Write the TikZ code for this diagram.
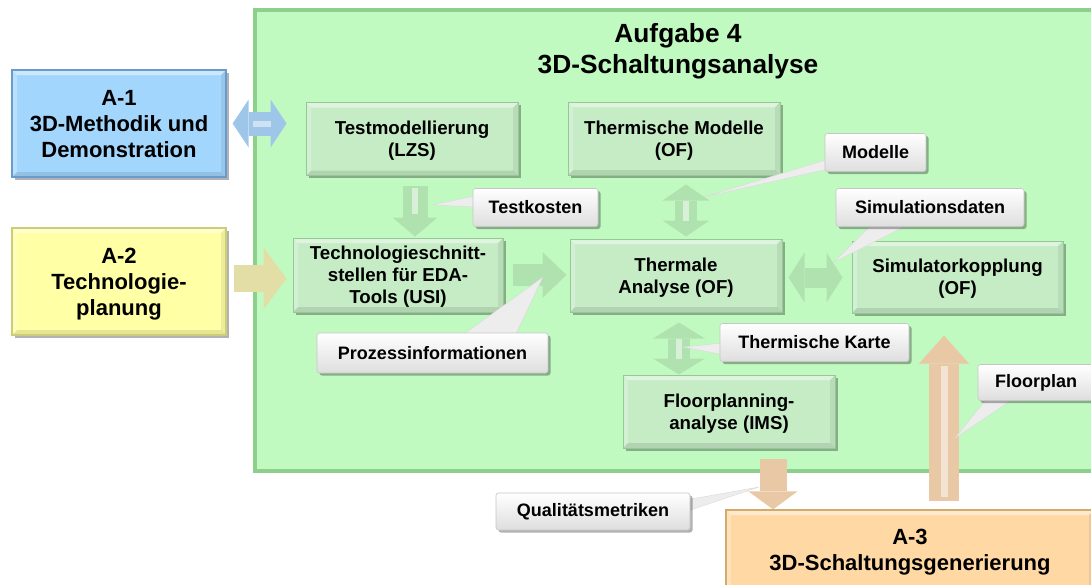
\documentclass[tikz,border=0pt]{standalone}
\usepackage{fontspec}
\setmainfont{Liberation Sans}
\usetikzlibrary{arrows.meta,shadows,calc}

\pgfdeclarelayer{bg}
\pgfdeclarelayer{ptr}
\pgfsetlayers{bg,ptr,main}

\definecolor{panelgreen}{RGB}{193,250,193}
\definecolor{panelrim}{RGB}{140,208,140}
\definecolor{boxgreen}{RGB}{198,236,198}
\definecolor{boxrim}{RGB}{150,200,150}
\definecolor{a1blue}{RGB}{163,214,253}
\definecolor{a1rim}{RGB}{105,155,205}
\definecolor{a2yellow}{RGB}{255,255,165}
\definecolor{a2rim}{RGB}{205,205,120}
\definecolor{a3orange}{RGB}{255,216,163}
\definecolor{a3rim}{RGB}{210,170,110}
\definecolor{arrgreen}{RGB}{176,226,176}
\definecolor{arrblue}{RGB}{158,198,232}
\definecolor{arrkhaki}{RGB}{226,222,165}
\definecolor{arrtan}{RGB}{232,200,165}
\definecolor{callgray}{RGB}{222,222,222}

\tikzset{
  boxshadow/.style={drop shadow={shadow xshift=2.5pt, shadow yshift=-2.5pt, opacity=0.3, fill=black}},
  % light upper/left rim and dark lower/right rim for a raised look
  bevel/.style={path picture={
    \fill[white, opacity=0.45]
      (path picture bounding box.north west) -- (path picture bounding box.north east)
      -- ([xshift=-5pt,yshift=-5pt]path picture bounding box.north east)
      -- ([xshift=5pt,yshift=-5pt]path picture bounding box.north west) -- cycle;
    \fill[white, opacity=0.25]
      (path picture bounding box.north west) -- (path picture bounding box.south west)
      -- ([xshift=5pt,yshift=5pt]path picture bounding box.south west)
      -- ([xshift=5pt,yshift=-5pt]path picture bounding box.north west) -- cycle;
    \fill[black, opacity=0.10]
      (path picture bounding box.south west) -- (path picture bounding box.south east)
      -- ([xshift=-5pt,yshift=5pt]path picture bounding box.south east)
      -- ([xshift=5pt,yshift=5pt]path picture bounding box.south west) -- cycle;
    \fill[black, opacity=0.07]
      (path picture bounding box.north east) -- (path picture bounding box.south east)
      -- ([xshift=-5pt,yshift=5pt]path picture bounding box.south east)
      -- ([xshift=-5pt,yshift=-5pt]path picture bounding box.north east) -- cycle;
  }},
  panel/.style={draw=panelrim, line width=3.5pt, fill=panelgreen},
  areabox/.style n args={2}{draw=#2, line width=1.2pt, fill=#1, boxshadow, bevel,
    minimum width=214pt, minimum height=107pt, align=center, text depth=0pt,
    font=\bfseries\fontsize{22}{26}\selectfont},
  procbox/.style={draw=boxrim, line width=1pt, fill=boxgreen, boxshadow, bevel,
    minimum width=212pt, minimum height=73pt, align=center, text depth=0pt,
    font=\bfseries\fontsize{18.7}{22}\selectfont},
  callout/.style={draw=gray!45, line width=0.6pt, rounded corners=2.5pt,
    top color=white, bottom color=callgray, boxshadow, inner sep=0pt,
    minimum height=38pt, font=\bfseries\fontsize{18}{20}\selectfont},
  pointer/.style={fill=white!93!black, draw=gray!30, line width=0.4pt},
  sarrow/.style n args={4}{draw=#1, line width=#2,
    arrows={-{Triangle[width=#3,length=#4,line width=0pt]}}},
  darrow/.style n args={4}{draw=#1, line width=#2,
    arrows={{Triangle[width=#3,length=#4,line width=0pt]}-{Triangle[width=#3,length=#4,line width=0pt]}}},
  shine/.style={draw=white, opacity=0.5, line width=#1},
}

\begin{document}
\begin{tikzpicture}[x=1pt, y=-1pt]
\useasboundingbox (0,0) rectangle (1091,584);

\begin{pgfonlayer}{bg}
  % work package frame
  \node[panel, minimum width=845pt, minimum height=461pt] (aufg) at (677.5,240.5) {};
  \node[font=\bfseries\fontsize{26.3}{31}\selectfont, align=center] (title) at (678,51)
    {Aufgabe 4\\3D-Schaltungsanalyse};

  % neighbouring work packages
  \node[areabox={a1blue}{a1rim}] (a1) at (119,123.5) {A-1\\3D-Methodik und\\Demonstration};
  \node[areabox={a2yellow}{a2rim}] (a2) at (119,281.5) {A-2\\Technologie-\\planung};
  \node[areabox={a3orange}{a3rim}, minimum width=368pt, minimum height=80pt] (a3) at (910,550)
    {A-3\\3D-Schaltungsgenerierung};

  % tasks inside the work package
  \node[procbox] (tm)   at (412,139)   {Testmodellierung\\(LZS)};
  \node[procbox] (tmod) at (674,138.5) {Thermische Modelle\\(OF)};
  \node[procbox, minimum width=210pt, minimum height=74pt] (tech) at (398,275)
    {Technologieschnitt-\\stellen für EDA-\\Tools (USI)};
  \node[procbox] (ta)   at (676,275.5) {Thermale\\Analyse (OF)};
  \node[procbox, minimum width=211pt, minimum height=72pt] (sk) at (957.5,277)
    {Simulatorkopplung\\(OF)};
  \node[procbox] (fp)   at (729,411.5) {Floorplanning-\\analyse (IMS)};

  % block arrows between the boxes
  \draw[darrow={arrblue}{24pt}{48pt}{16pt}, shorten <=6pt, shorten >=19pt]
    (a1.east) -- (a1.east -| tm.west);
  \draw[sarrow={arrkhaki}{27pt}{62pt}{23pt}, shorten <=7pt, shorten >=6pt]
    ([yshift=3pt]a2.east) -- ([yshift=3pt]a2.east -| tech.west);
  \draw[sarrow={arrgreen}{25pt}{45pt}{19pt}, shorten <=10pt, shorten >=1pt]
    ([xshift=3pt]tm.south) -- ([xshift=3pt]tm.south |- tech.north);
  \draw[sarrow={arrgreen}{22pt}{46pt}{24pt}, shorten <=9pt, shorten >=3pt]
    (tech.east) -- (tech.east -| ta.west);
  \draw[darrow={arrgreen}{22pt}{47pt}{16pt}, shorten <=9pt, shorten >=2pt]
    ([xshift=12pt]tmod.south) -- ([xshift=12pt]tmod.south |- ta.north);
  \draw[darrow={arrgreen}{20pt}{50pt}{16pt}, shorten <=6pt, shorten >=9pt]
    ([yshift=-2pt]ta.east) -- ([yshift=-2pt]ta.east -| sk.west);
  \draw[darrow={arrgreen}{22pt}{52pt}{16pt}, shorten <=10pt]
    ([xshift=3pt]ta.south) -- ([xshift=3pt]ta.south |- fp.north);
  \draw[sarrow={arrtan}{27pt}{49pt}{18pt}, shorten <=10pt]
    ([xshift=44pt]fp.south) -- ([xshift=44pt]fp.south |- a3.north);
  \draw[sarrow={arrtan}{30pt}{50pt}{28pt}, shorten <=8pt, shorten >=22pt]
    ([xshift=-13.5pt]sk.south |- a3.north) -- ([xshift=-13.5pt]sk.south);

  % highlights on the arrow shafts
  \draw[shine=6pt, shorten <=26pt, shorten >=35pt] (a1.east) -- (a1.east -| tm.west);
  \draw[shine=6pt, shorten <=12pt, shorten >=24pt]
    ([xshift=3pt]tm.south) -- ([xshift=3pt]tm.south |- tech.north);
  \draw[shine=6pt, shorten <=25pt, shorten >=18pt]
    ([xshift=12pt]tmod.south) -- ([xshift=12pt]tmod.south |- ta.north);
  \draw[shine=6pt, shorten <=26pt, shorten >=16pt]
    ([xshift=3pt]ta.south) -- ([xshift=3pt]ta.south |- fp.north);
  \draw[shine=7pt, shorten <=12pt, shorten >=52pt]
    ([xshift=-13.5pt]sk.south |- a3.north) -- ([xshift=-13.5pt]sk.south);
\end{pgfonlayer}

% callout labels
\node[callout, minimum width=125pt] (ckost)  at (535.5,207.5) {Testkosten};
\node[callout, minimum width=231pt, minimum height=40pt] (cproz) at (432.5,353) {Prozessinformationen};
\node[callout, minimum width=101pt] (cmod)   at (875.5,152.5) {Modelle};
\node[callout, minimum width=188pt] (csim)   at (930,207.5) {Simulationsdaten};
\node[callout, minimum width=189pt] (ckarte) at (814.5,342.5) {Thermische Karte};
\node[callout, minimum width=116pt, minimum height=36pt] (cfloor) at (1036,382.5) {Floorplan};
\node[callout, minimum width=194pt, minimum height=37pt] (cqual) at (593,511.5) {Qualitätsmetriken};

% ends of the callout pointers
\coordinate (pkost)  at (433,205);
\coordinate (pproz)  at (543,277);
\coordinate (pmod)   at (704,197);
\coordinate (psim)   at (834,262);
\coordinate (pkarte) at (683,347);
\coordinate (pfloor) at (955,438);
\coordinate (pqual)  at (759,487);

\begin{pgfonlayer}{ptr}
  \draw[pointer] ($(ckost.center)+(-50,-14)$) -- (pkost) -- ($(ckost.center)+(-50,0)$) -- cycle;
  \draw[pointer] ($(cproz.center)+(22,-12)$) -- (pproz) -- ($(cproz.center)+(80,-12)$) -- cycle;
  \draw[pointer] ($(cmod.center)+(-45,6)$) -- (pmod) -- ($(cmod.center)+(-45,16)$) -- cycle;
  \draw[pointer] ($(csim.center)+(-55,14)$) -- (psim) -- ($(csim.center)+(-15,14)$) -- cycle;
  \draw[pointer] ($(ckarte.center)+(-87,0)$) -- (pkarte) -- ($(ckarte.center)+(-87,13)$) -- cycle;
  \draw[pointer] ($(cfloor.center)+(-46,12)$) -- (pfloor) -- ($(cfloor.center)+(-16,12)$) -- cycle;
  \draw[pointer] ($(cqual.center)+(90,-11)$) -- (pqual) -- ($(cqual.center)+(90,1)$) -- cycle;
\end{pgfonlayer}
\end{tikzpicture}
\end{document}
